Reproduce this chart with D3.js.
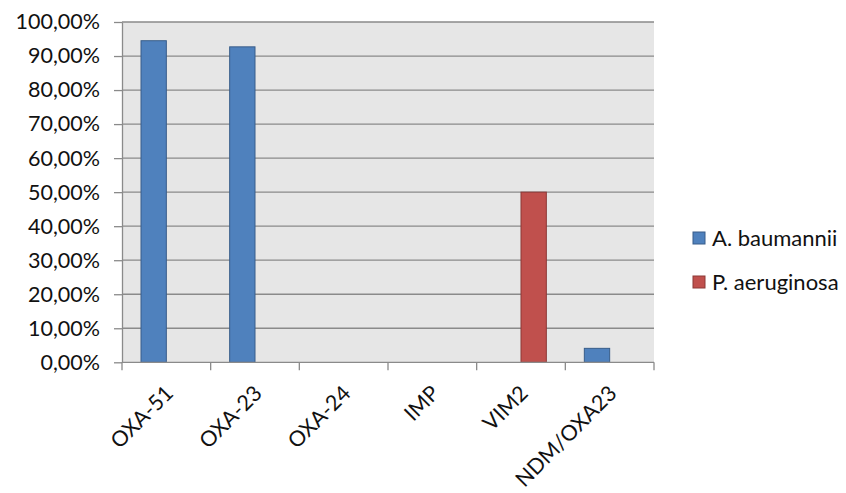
<!DOCTYPE html>
<html>
<head>
<meta charset="utf-8">
<script src="https://cdn.jsdelivr.net/npm/d3@7"></script>
<style>
  html, body { margin: 0; padding: 0; background: #fff; }
  svg { display: block; }
  text { font-family: Lato, "Open Sans", sans-serif; fill: #111; }
</style>
</head>
<body>
<svg id="chart" width="846" height="493"></svg>
<script>
// Carbapenemase genes detected, share of isolates per species
const categories = ["OXA-51", "OXA-23", "OXA-24", "IMP", "VIM2", "NDM/OXA23"];
const seriesNames = ["A. baumannii", "P. aeruginosa"];
const baumannii = [94.5, 92.7, 0, 0, 0, 4.1];
const aeruginosa = [0, 0, 0, 0, 50.0, 0];
const yTicks = [0, 10, 20, 30, 40, 50, 60, 70, 80, 90, 100];
const seriesColors = ["#4f81bd", "#c0504d"];
const seriesStrokes = ["#385d8a", "#8c3836"];

const seriesValues = [baumannii, aeruginosa];
const rows = categories.map((c, i) => ({
  cat: c,
  vals: seriesNames.map((s, k) => ({ key: s, k, v: seriesValues[k][i] }))
}));

const svg = d3.select("#chart");
const plot = { left: 122, right: 654, top: 22, bottom: 362.3 };

const x = d3.scaleBand().domain(categories).range([plot.left, plot.right]).paddingInner(0).paddingOuter(0);
// Excel-style grouping: gap width 150% of a bar
const groupPad = 1.5 / 3.5;
const x1 = d3.scaleBand().domain(seriesNames)
  .range([x.bandwidth() * groupPad / 2, x.bandwidth() * (1 - groupPad / 2)]);
const y = d3.scaleLinear().domain([0, 100]).range([plot.bottom, plot.top]);

// plot area background
svg.append("rect")
  .attr("x", plot.left).attr("y", plot.top)
  .attr("width", plot.right - plot.left).attr("height", plot.bottom - plot.top)
  .attr("fill", "#e6e6e6");

// horizontal gridlines
svg.append("g").selectAll("line").data(yTicks.filter(d => d > 0)).join("line")
  .attr("x1", plot.left).attr("x2", plot.right)
  .attr("y1", d => y(d)).attr("y2", d => y(d))
  .attr("stroke", "#8a8a8a").attr("stroke-width", 1.3);

// bars
const groups = svg.append("g").selectAll("g").data(rows).join("g")
  .attr("transform", d => `translate(${x(d.cat)},0)`);
groups.selectAll("rect").data(d => d.vals.filter(v => v.v > 0)).join("rect")
  .attr("x", d => x1(d.key))
  .attr("width", x1.bandwidth())
  .attr("y", d => y(d.v))
  .attr("height", d => y(0) - y(d.v))
  .attr("fill", d => seriesColors[d.k])
  .attr("stroke", d => seriesStrokes[d.k])
  .attr("stroke-width", 1);

// y axis
const yAxis = d3.axisLeft(y).tickValues(yTicks).tickSizeOuter(0).tickSizeInner(8).tickPadding(14)
  .tickFormat(d => d3.format(".2f")(d).replace(".", ",") + "%");
const gy = svg.append("g").attr("transform", `translate(${plot.left},0)`).call(yAxis);
gy.selectAll("line, path").attr("stroke", "#8a8a8a").attr("stroke-width", 1.3);
gy.selectAll("text").attr("font-size", 21.5).attr("fill", "#111");

// x axis with boundary ticks between categories
const gx = svg.append("g").attr("transform", `translate(0,${plot.bottom})`);
gx.append("line").attr("x1", plot.left).attr("x2", plot.right)
  .attr("stroke", "#8a8a8a").attr("stroke-width", 1.3);
const bounds = categories.map(c => x(c)).concat([x(categories[categories.length - 1]) + x.bandwidth()]);
gx.selectAll("line.tk").data(bounds).join("line").attr("class", "tk")
  .attr("x1", d => d).attr("x2", d => d).attr("y1", 0).attr("y2", 8)
  .attr("stroke", "#8a8a8a").attr("stroke-width", 1.3);
gx.selectAll("text").data(categories).join("text")
  .attr("transform", d => `translate(${x(d) + x.bandwidth() / 2 + 3},${27}) rotate(-45)`)
  .attr("text-anchor", "end")
  .attr("dy", "0.35em")
  .attr("font-size", 21.5)
  .text(d => d);

// legend
const legend = svg.append("g");
const lg = legend.selectAll("g").data(seriesNames).join("g")
  .attr("transform", (d, i) => `translate(693,${238 + i * 44})`);
lg.append("rect").attr("x", 0).attr("y", -6).attr("width", 12).attr("height", 12)
  .attr("fill", (d, i) => seriesColors[i]).attr("stroke", (d, i) => seriesStrokes[i]);
lg.append("text").attr("x", 19).attr("dy", "0.35em").attr("font-size", 22).text(d => d);
</script>
</body>
</html>
